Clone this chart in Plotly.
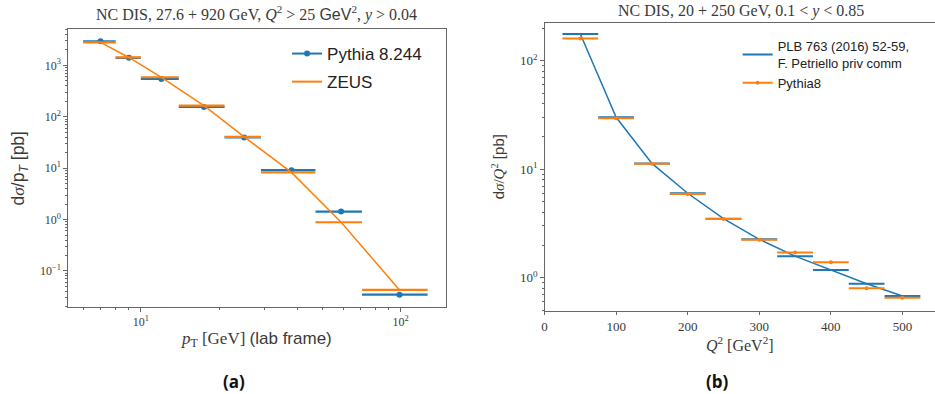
import plotly.graph_objects as go

# ---------------- data: panel (a) ----------------
pt_lo = [6, 8, 10, 14, 21, 29, 47, 71]
pt_hi = [8, 10, 14, 21, 29, 47, 71, 127]
pythia_a = [2930, 1400, 542, 155, 39.5, 9.15, 1.43, 0.0347]
zeus_a = [2800, 1420, 585, 165, 40.5, 8.25, 0.887, 0.0428]

# ---------------- data: panel (b) ----------------
q2_lo = [25, 75, 125, 175, 225, 275, 325, 375, 425, 475]
q2_hi = [75, 125, 175, 225, 275, 325, 375, 425, 475, 525]
plb_b = [176, 30.1, 11.3, 6.0, 3.50, 2.26, 1.58, 1.18, 0.88, 0.678]
pythia_b = [160, 29.4, 11.2, 5.9, 3.48, 2.24, 1.71, 1.39, 0.80, 0.654]

left_yticks = [0.1, 1, 10, 100, 1000]
left_yticktext = ["10<sup>\u22121</sup>", "10<sup>0</sup>", "10<sup>1</sup>", "10<sup>2</sup>", "10<sup>3</sup>"]
left_xticks = [10, 100]
left_xticktext = ["10<sup>1</sup>", "10<sup>2</sup>"]
right_yticks = [1, 10, 100]
right_yticktext = ["10<sup>0</sup>", "10<sup>1</sup>", "10<sup>2</sup>"]
right_xticks = [0, 100, 200, 300, 400, 500]

BLUE = "#1f77b4"
ORANGE = "#ff7f0e"
AXC = "#666666"
TXT = "#3a3a3a"
SERIF = "Liberation Serif"
SANS = "Liberation Sans"

W, H = 935, 394

pt_c = [(a + b) / 2 for a, b in zip(pt_lo, pt_hi)]
pt_ep = [b - c for b, c in zip(pt_hi, pt_c)]
pt_em = [c - a for a, c in zip(pt_lo, pt_c)]
q2_c = [(a + b) / 2 for a, b in zip(q2_lo, q2_hi)]
q2_e = [b - c for b, c in zip(q2_hi, q2_c)]

fig = go.Figure()

# ---- panel (a) ----
fig.add_trace(go.Scatter(
    x=pt_c, y=pythia_a, mode="markers", xaxis="x", yaxis="y",
    marker=dict(color=BLUE, size=6),
    error_x=dict(type="data", symmetric=False, array=pt_ep, arrayminus=pt_em,
                 color=BLUE, thickness=2.2, width=0),
    showlegend=False, name="Pythia 8.244"))
fig.add_trace(go.Scatter(
    x=pt_c, y=zeus_a, mode="lines", xaxis="x", yaxis="y",
    line=dict(color=ORANGE, width=1.5),
    error_x=dict(type="data", symmetric=False, array=pt_ep, arrayminus=pt_em,
                 color=ORANGE, thickness=2.2, width=0),
    showlegend=False, name="ZEUS"))
# legend entries for (a)
fig.add_trace(go.Scatter(x=[None], y=[None], mode="lines+markers", xaxis="x", yaxis="y",
                         line=dict(color=BLUE, width=2), marker=dict(color=BLUE, size=6),
                         name="Pythia 8.244", legend="legend", legendgroup="a1"))
fig.add_trace(go.Scatter(x=[None], y=[None], mode="lines", xaxis="x", yaxis="y",
                         line=dict(color=ORANGE, width=2),
                         name="ZEUS", legend="legend", legendgroup="a2"))

# ---- panel (b) ----
fig.add_trace(go.Scatter(
    x=q2_c, y=plb_b, mode="lines", xaxis="x2", yaxis="y2",
    line=dict(color=BLUE, width=1.5),
    error_x=dict(type="data", array=q2_e, color=BLUE, thickness=2, width=0),
    showlegend=False, name="PLB 763 (2016) 52-59, F. Petriello priv comm"))
fig.add_trace(go.Scatter(
    x=q2_c, y=pythia_b, mode="markers", xaxis="x2", yaxis="y2",
    marker=dict(color=ORANGE, size=4),
    error_x=dict(type="data", array=q2_e, color=ORANGE, thickness=2, width=0),
    showlegend=False, name="Pythia8"))
fig.add_trace(go.Scatter(x=[None], y=[None], mode="lines", xaxis="x2", yaxis="y2",
                         line=dict(color=BLUE, width=2),
                         name="PLB 763 (2016) 52-59,<br>F. Petriello priv comm",
                         legend="legend2", legendgroup="b1"))
fig.add_trace(go.Scatter(x=[None], y=[None], mode="lines+markers", xaxis="x2", yaxis="y2",
                         line=dict(color=ORANGE, width=2), marker=dict(color=ORANGE, size=4),
                         name="Pythia8", legend="legend2", legendgroup="b2"))

common = dict(showline=True, linecolor=AXC, linewidth=1, ticks="outside", ticklen=3.5,
              tickcolor=AXC, showgrid=False, zeroline=False)

def px_x(p):
    return p / W

def px_y(p):
    return 1 - p / H

fig.update_layout(
    width=W, height=H,
    margin=dict(l=0, r=0, t=0, b=0),
    paper_bgcolor="white", plot_bgcolor="white",
    xaxis=dict(type="log", domain=[px_x(65), px_x(444.3)], range=[0.719, 2.174],
               anchor="y", mirror=True, tickmode="array", tickvals=left_xticks,
               ticktext=left_xticktext, tickfont=dict(family=SERIF, size=12, color=TXT),
               minor=dict(ticks="outside", ticklen=2, tickcolor=AXC, dtick="D1"),
               title=dict(text="<i>p</i><sub>T</sub> [GeV] <span style='font-family:Liberation Sans'>(lab frame)</span>",
                          font=dict(family=SERIF, size=17, color=TXT), standoff=3),
               **common),
    yaxis=dict(type="log", domain=[px_y(307.3), px_y(29.3)], range=[-1.706, 3.70],
               anchor="x", mirror=True, tickmode="array", tickvals=left_yticks,
               ticktext=left_yticktext, tickfont=dict(family=SERIF, size=12, color=TXT),
               minor=dict(ticks="outside", ticklen=2, tickcolor=AXC, dtick="D1"),
               title=dict(text="d<span style='font-family:Liberation Serif'><i>σ</i></span>/p<sub><i>T</i></sub> [pb]",
                          font=dict(family=SANS, size=17.5, color=TXT), standoff=10),
               **common),
    xaxis2=dict(type="linear", domain=[px_x(543.3), 1.0], range=[0, 545.5],
                anchor="y2", mirror=True, tickmode="array", tickvals=right_xticks,
                tickfont=dict(family=SERIF, size=13, color=TXT),
                title=dict(text="<i>Q</i><sup>2</sup> [GeV<sup>2</sup>]",
                           font=dict(family=SERIF, size=16, color=TXT), standoff=0),
                **common),
    yaxis2=dict(type="log", domain=[px_y(310.7), px_y(22.7)], range=[-0.304, 2.35],
                anchor="x2", tickmode="array", tickvals=right_yticks,
                ticktext=right_yticktext, tickfont=dict(family=SERIF, size=13, color=TXT),
                minor=dict(ticks="outside", ticklen=2, tickcolor=AXC, dtick="D1"),
                title=dict(text="d<span style='font-family:Liberation Serif'><i>σ</i>/<i>Q</i><sup>2</sup></span> [pb]",
                           font=dict(family=SANS, size=15, color=TXT), standoff=11),
                **common),
    legend=dict(x=px_x(285), y=px_y(36), xanchor="left", yanchor="top",
                bgcolor="rgba(0,0,0,0)", font=dict(family=SANS, size=17, color="#222"),
                tracegroupgap=3, traceorder="grouped", itemwidth=30),
    legend2=dict(x=px_x(737), y=px_y(31), xanchor="left", yanchor="top",
                 bgcolor="rgba(0,0,0,0)", font=dict(family=SANS, size=13, color="#222"),
                 tracegroupgap=0, traceorder="grouped", itemwidth=30),
    annotations=[
        dict(text="NC DIS, 27.6 + 920 GeV, <i>Q</i><sup>2</sup> > 25 <span style='font-family:Liberation Sans'>GeV</span><sup>2</sup>, <i>y</i> > 0.04",
             xref="paper", yref="paper", x=px_x(254.5), y=px_y(13), xanchor="center", yanchor="middle",
             showarrow=False, font=dict(family=SERIF, size=16, color=TXT)),
        dict(text="NC DIS, 20 + 250 GeV, 0.1 < <i>y</i> < 0.85",
             xref="paper", yref="paper", x=px_x(740), y=px_y(11), xanchor="center", yanchor="middle",
             showarrow=False, font=dict(family=SERIF, size=16, color=TXT)),
        dict(text="<b>(a)</b>", xref="paper", yref="paper", x=px_x(232), y=px_y(381),
             xanchor="center", yanchor="middle", showarrow=False,
             font=dict(family="Open Sans", size=17, color="#111")),
        dict(text="<b>(b)</b>", xref="paper", yref="paper", x=px_x(717), y=px_y(381),
             xanchor="center", yanchor="middle", showarrow=False,
             font=dict(family="Open Sans", size=17, color="#111")),
    ],
)

fig.write_html("out.html", config={"displayModeBar": False},
               post_script="document.body.style.margin='0px';document.body.style.padding='0px';")
